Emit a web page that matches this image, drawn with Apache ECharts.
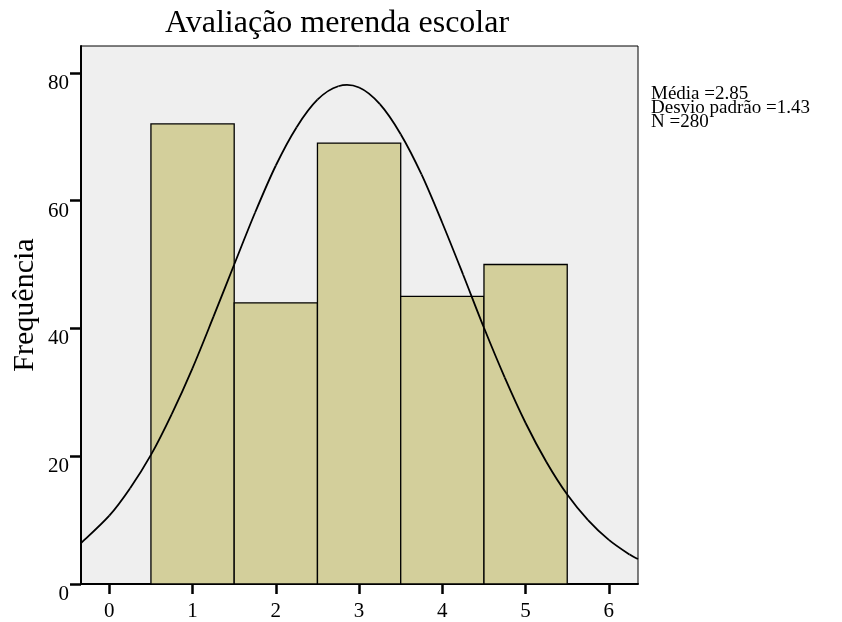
<!DOCTYPE html>
<html>
<head>
<meta charset="utf-8">
<script src="https://cdn.jsdelivr.net/npm/echarts@6/dist/echarts.min.js"></script>
<style>
  html, body { margin: 0; padding: 0; background: #fff; }
  #chart { width: 842px; height: 622px; }
</style>
</head>
<body>
<div id="chart"></div>
<script>
// bins of the histogram (score 1..5, width 1)
const binStart = [0.5, 1.5, 2.5, 3.5, 4.5];
const binEnd = [1.5, 2.5, 3.5, 4.5, 5.5];
const counts = [72, 44, 69, 45, 50];

// normal curve
const curveX = [-0.34, 0, 0.25, 0.5, 0.75, 1, 1.25, 1.5, 1.75, 2, 2.25, 2.5, 2.75, 3, 3.25, 3.5, 3.75, 4, 4.25, 4.5, 4.75, 5, 5.25, 5.5, 5.75, 6, 6.25, 6.35];
const curveY = [6.4, 10.7, 15.0, 20.2, 26.6, 33.8, 41.8, 50.0, 58.1, 65.5, 71.5, 75.8, 77.9, 77.7, 75.1, 70.4, 64.1, 56.5, 48.4, 40.1, 32.3, 25.2, 19.1, 14.0, 10.0, 6.9, 4.6, 3.9];

const xTicks = [0, 1, 2, 3, 4, 5, 6];
const yTicks = [0, 20, 40, 60, 80];

const statsLines = ['Média =2.85', 'Desvio padrão =1.43', 'N =280'];

const serif = '"Liberation Serif", "DejaVu Serif", serif';

const chart = echarts.init(document.getElementById('chart'));

const option = {
  backgroundColor: '#fff',
  animation: false,
  title: {
    text: 'Avaliação merenda escolar',
    left: 165,
    top: 8,
    padding: 0,
    textStyle: { fontFamily: serif, fontSize: 32, fontWeight: 'normal', color: '#000' }
  },
  grid: {
    left: 81,
    right: 204,
    top: 46,
    bottom: 37,
    show: true,
    backgroundColor: '#efefef',
    borderColor: '#000',
    borderWidth: 1
  },
  xAxis: {
    type: 'value',
    min: -0.34,
    max: 6.35,
    splitLine: { show: false },
    axisLine: { show: true, onZero: false, lineStyle: { color: '#000', width: 2 } },
    axisTick: { show: true, length: 10, lineStyle: { color: '#000', width: 2.5 }, customValues: xTicks },
    axisLabel: {
      color: '#000', fontFamily: serif, fontSize: 21, margin: 17,
      customValues: xTicks
    }
  },
  yAxis: {
    type: 'value',
    min: 0,
    max: 84.2,
    splitLine: { show: false },
    axisLine: { show: true, onZero: false, lineStyle: { color: '#000', width: 2 } },
    axisTick: { show: true, length: 11, lineStyle: { color: '#000', width: 2.5 }, customValues: yTicks },
    axisLabel: {
      color: '#000', fontFamily: serif, fontSize: 21, margin: 12,
      verticalAlign: 'top',
      customValues: yTicks
    }
  },
  graphic: [
    {
      type: 'text',
      x: 25,
      y: 305,
      rotation: Math.PI / 2,
      style: {
        text: 'Frequência',
        font: '30px ' + serif,
        align: 'center',
        verticalAlign: 'middle',
        fill: '#000'
      }
    },
    {
      type: 'text',
      left: 651,
      top: 85,
      style: {
        text: statsLines.join('\n'),
        font: '19px ' + serif,
        lineHeight: 14,
        fill: '#000'
      }
    }
  ],
  series: [
    {
      type: 'custom',
      data: counts.map((c, i) => [binStart[i], binEnd[i], c]),
      encode: { x: [0, 1], y: 2 },
      renderItem: function (params, api) {
        const p0 = api.coord([api.value(0), api.value(2)]);
        const p1 = api.coord([api.value(1), 0]);
        return {
          type: 'rect',
          shape: { x: p0[0], y: p0[1], width: p1[0] - p0[0], height: p1[1] - p0[1] },
          style: { fill: '#d3cf9b', stroke: '#000', lineWidth: 1.3 }
        };
      },
      z: 2
    },
    {
      // curve drawn as catmull-rom segments through the read points
      type: 'custom',
      data: curveX.map((x, i) => [x, curveY[i]]),
      encode: { x: 0, y: 1 },
      renderItem: function (params, api) {
        const i = params.dataIndex;
        const n = curveX.length;
        if (i >= n - 1) return null;
        const pt = k => api.coord([curveX[k], curveY[k]]);
        const a = pt(Math.max(i - 1, 0));
        const b = pt(i);
        const c = pt(i + 1);
        const d = pt(Math.min(i + 2, n - 1));
        return {
          type: 'bezierCurve',
          shape: {
            x1: b[0], y1: b[1],
            x2: c[0], y2: c[1],
            cpx1: b[0] + (c[0] - a[0]) / 6, cpy1: b[1] + (c[1] - a[1]) / 6,
            cpx2: c[0] - (d[0] - b[0]) / 6, cpy2: c[1] - (d[1] - b[1]) / 6
          },
          style: { fill: null, stroke: '#000', lineWidth: 1.8 }
        };
      },
      z: 3
    }
  ]
};

chart.setOption(option);
</script>
</body>
</html>
